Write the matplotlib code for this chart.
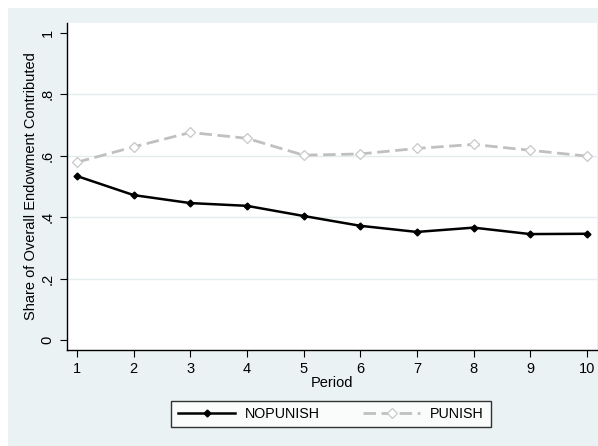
import numpy as np
import matplotlib.pyplot as plt
from matplotlib.patches import Rectangle

plt.rcParams['font.family'] = ['Liberation Sans', 'DejaVu Sans']

period = [1, 2, 3, 4, 5, 6, 7, 8, 9, 10]
nopunish = [0.534, 0.472, 0.446, 0.437, 0.404, 0.372, 0.352, 0.366, 0.345, 0.346]
punish = [0.579, 0.629, 0.676, 0.657, 0.602, 0.606, 0.624, 0.637, 0.618, 0.599]
yticks = [0, 0.2, 0.4, 0.6, 0.8, 1]
ylabels = ['0', '.2', '.4', '.6', '.8', '1']

bg = '#EAF2F3'
fig = plt.figure(figsize=(5.98, 4.46), dpi=100)
fig.patches.append(Rectangle((8 / 598, 0), 1, 1 - 8 / 446, transform=fig.transFigure,
                             facecolor=bg, edgecolor='none', zorder=-10))

ax = fig.add_axes([67 / 598, 96 / 446, 530 / 598, 327 / 446])
ax.set_facecolor('white')

ax.plot(period, punish, color='#C0C0C0', lw=2, ls=(0, (4.5, 2)),
        marker='D', ms=5.5, mfc='white', mec='#C8C8C8', mew=0.9, label='PUNISH', zorder=3)
ax.plot(period, nopunish, color='black', lw=1.8,
        marker='D', ms=3.5, mfc='black', mec='black', label='NOPUNISH', zorder=4)

ax.set_xlim(0.824, 10.18)
ax.set_ylim(-0.0326, 1.0326)
ax.set_xticks(period)
ax.set_yticks(yticks)
ax.set_yticklabels(ylabels, rotation=90, va='center')
for y in [0.2, 0.4, 0.6, 0.8]:
    ax.axhline(y, color='#E3ECEE', lw=1, zorder=1)

ax.tick_params(axis='both', labelsize=10.5, length=5, width=0.8, colors='black')
ax.tick_params(axis='y', pad=4)
for s in ['top', 'right']:
    ax.spines[s].set_visible(False)
ax.spines['left'].set_linewidth(1)
ax.spines['bottom'].set_linewidth(1)

ax.set_xlabel('Period', fontsize=10.5, labelpad=0)
ax.set_ylabel('Share of Overall Endowment Contributed', fontsize=10.5, labelpad=2)

h, l = ax.get_legend_handles_labels()
leg = fig.legend(h[::-1], l[::-1], loc='center', bbox_to_anchor=(331 / 598, 1 - 414 / 446),
                 ncol=2, fontsize=10.3, frameon=True, fancybox=False, handlelength=4.0,
                 columnspacing=3, borderpad=0.45, handletextpad=0.7)
leg.get_frame().set_edgecolor('black')
leg.get_frame().set_linewidth(1)

fig.savefig('out.png', dpi=100)
